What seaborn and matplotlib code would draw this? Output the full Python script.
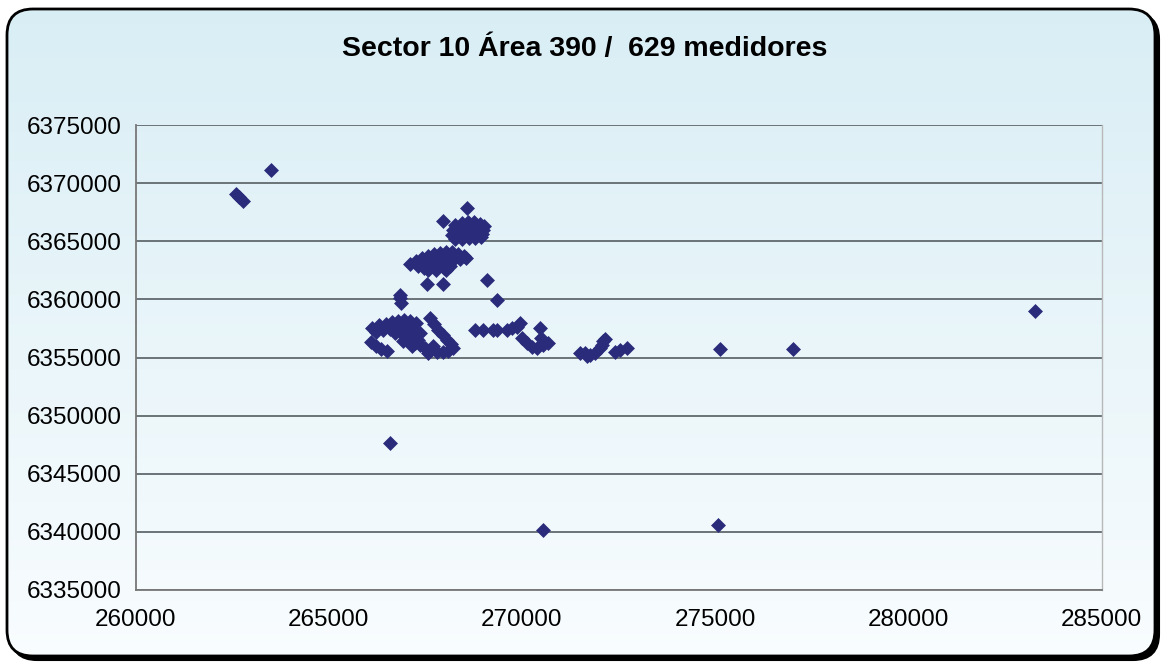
import numpy as np
import pandas as pd
import matplotlib
matplotlib.use("Agg")
import matplotlib.pyplot as plt
import seaborn as sns
from matplotlib.patches import FancyBboxPatch

# Meter coordinates (easting / northing) of sector 10, area 390
isolated_x = [262600, 262680, 262780, 263500, 266590, 270550, 275080, 275120,
              277020, 283280, 267960, 268580, 267540, 267960, 269100, 269360,
              266850, 266850, 266870]
isolated_y = [6369050, 6368800, 6368500, 6371100, 6347650, 6340150, 6340600, 6355730,
              6355730, 6359000, 6366740, 6367860, 6361320, 6361320, 6361670, 6359950,
              6360380, 6360120, 6359690]

north_x = [268270, 268450, 268610, 268760, 268920, 269020,
           268220, 268370, 268530, 268680, 268840, 268990,
           268190, 268350, 268500, 268660, 268810, 268970,
           268270, 268450, 268630, 268790, 268940]
north_y = [6366400, 6366570, 6366660, 6366660, 6366480, 6366310,
           6365970, 6366050, 6366140, 6366140, 6366050, 6365970,
           6365540, 6365620, 6365710, 6365710, 6365620, 6365620,
           6365190, 6365190, 6365280, 6365280, 6365370]

central_x = [267100, 267260, 267410, 267570, 267730, 267880, 268040, 268190, 268350, 268500, 268550,
             267310, 267470, 267620, 267780, 267930, 268090, 268240, 268400,
             267570, 267780, 267980, 268140,
             267360, 267670, 267980, 268290, 267880, 268190, 267720, 267470, 268030]
central_y = [6363040, 6363300, 6363560, 6363730, 6363900, 6363990, 6364080, 6364080, 6363900, 6363730, 6363560,
             6362870, 6363040, 6363220, 6363390, 6363470, 6363560, 6363560, 6363470,
             6362530, 6362530, 6362700, 6362870,
             6363220, 6363560, 6363730, 6363730, 6363130, 6363300, 6362870, 6362700, 6362530]

southwest_x = [266120, 266300, 266480, 266640, 266790, 266950, 267100, 267260,
               266410, 266590, 266770, 266950, 267100, 267230, 267360, 266220,
               267620, 267730, 267830, 267960, 268060, 268170,
               267160, 267310,
               266920, 267080, 267230, 267360, 267490, 267650, 267800, 267960, 268090, 268220, 267570,
               266090, 266220, 266350, 266510,
               266720, 266900, 267160, 267700]
southwest_y = [6357540, 6357800, 6357880, 6358050, 6358140, 6358230, 6358140, 6357970,
               6357370, 6357450, 6357540, 6357620, 6357540, 6357280, 6357110, 6357190,
               6358400, 6357880, 6357370, 6356940, 6356510, 6356160,
               6356850, 6356510,
               6356420, 6356330, 6356250, 6356080, 6355820, 6355650, 6355470, 6355470, 6355560, 6355820, 6355390,
               6356330, 6355990, 6355730, 6355560,
               6357110, 6357020, 6355990, 6355990]

south_x = [268790, 268990, 269250, 269360, 269610, 269740, 269870, 269950, 270470,
           270000, 270130, 270260, 270390, 270550, 270680, 270490]
south_y = [6357370, 6357370, 6357370, 6357370, 6357370, 6357540, 6357620, 6357970, 6357540,
           6356680, 6356250, 6355900, 6355820, 6356080, 6356250, 6356680]

southeast_x = [271500, 271630, 271760, 271890, 272020, 272070, 272100, 271690,
               272410, 272540, 272720, 272150]
southeast_y = [6355390, 6355390, 6355220, 6355390, 6355820, 6356080, 6356420, 6355130,
               6355470, 6355650, 6355820, 6356600]

x_ticks = [260000, 265000, 270000, 275000, 280000, 285000]
y_ticks = [6335000, 6340000, 6345000, 6350000, 6355000, 6360000, 6365000, 6370000, 6375000]
title = "Sector 10 Área 390 /  629 medidores"

df = pd.DataFrame({
    "x": isolated_x + north_x + central_x + southwest_x + south_x + southeast_x,
    "y": isolated_y + north_y + central_y + southwest_y + south_y + southeast_y,
})

sns.set_theme(style="white")
plt.rcParams["font.family"] = ["Liberation Sans", "DejaVu Sans"]

W, H = 1163, 666
fig = plt.figure(figsize=(W / 100, H / 100), dpi=100)
fig.patch.set_facecolor("white")

# Rounded panel with gradient fill and drop shadow
bg = fig.add_axes([0, 0, 1, 1], zorder=0)
bg.set_xlim(0, W)
bg.set_ylim(H, 0)
bg.axis("off")
bx, by, bw, bh = 7, 9, 1148, 647
shadow = FancyBboxPatch((bx + 4, by + 4), bw, bh,
                        boxstyle="round,pad=0,rounding_size=26",
                        fc="black", ec="black", lw=1.5)
bg.add_patch(shadow)
panel = FancyBboxPatch((bx, by), bw, bh, boxstyle="round,pad=0,rounding_size=26",
                       fc="white", ec="none")
bg.add_patch(panel)
top_c = np.array([0.851, 0.933, 0.960])
bot_c = np.array([0.975, 0.990, 0.997])
t = np.linspace(0, 1, 256)[:, None, None]
grad = top_c * (1 - t) + bot_c * t
grad = np.repeat(grad, 4, axis=1)
img = bg.imshow(grad, extent=[bx, bx + bw, by + bh, by], aspect="auto",
                interpolation="bilinear", zorder=2)
img.set_clip_path(panel)
border = FancyBboxPatch((bx, by), bw, bh, boxstyle="round,pad=0,rounding_size=26",
                        fc="none", ec="black", lw=2, zorder=3)
bg.add_patch(border)

# Scatter plot area
ax = fig.add_axes([135.5 / W, 1 - 590 / H, 966 / W, 465 / H], zorder=1)
ax.set_facecolor("none")
sns.scatterplot(data=df, x="x", y="y", marker="D", s=58, color="#2B2B7B",
                linewidth=0, ax=ax, zorder=3)
ax.set_xlim(260000, 285000)
ax.set_ylim(6335000, 6375000)
ax.set_xticks(x_ticks)
ax.set_yticks(y_ticks)
ax.set_xticklabels([str(v) for v in x_ticks])
ax.set_yticklabels([str(v) for v in y_ticks])
ax.set_xlabel("")
ax.set_ylabel("")
ax.yaxis.grid(True, color="#6a7478", lw=1.4)
ax.xaxis.grid(False)
ax.set_axisbelow(True)
for side in ("left", "bottom"):
    ax.spines[side].set_color("#777777")
    ax.spines[side].set_linewidth(1.3)
ax.spines["right"].set_color("#b8b8b8")
ax.spines["right"].set_linewidth(1)
ax.spines["top"].set_visible(False)
ax.tick_params(axis="both", direction="out", length=5, width=1, color="#555555",
               labelsize=17.5, labelcolor="black", pad=5)
ax.tick_params(axis="x", pad=9)

fig.text(0.503, 0.927, title, ha="center", va="center", fontsize=20.5,
         fontweight="bold", color="black")

fig.savefig("out.png", dpi=100)
